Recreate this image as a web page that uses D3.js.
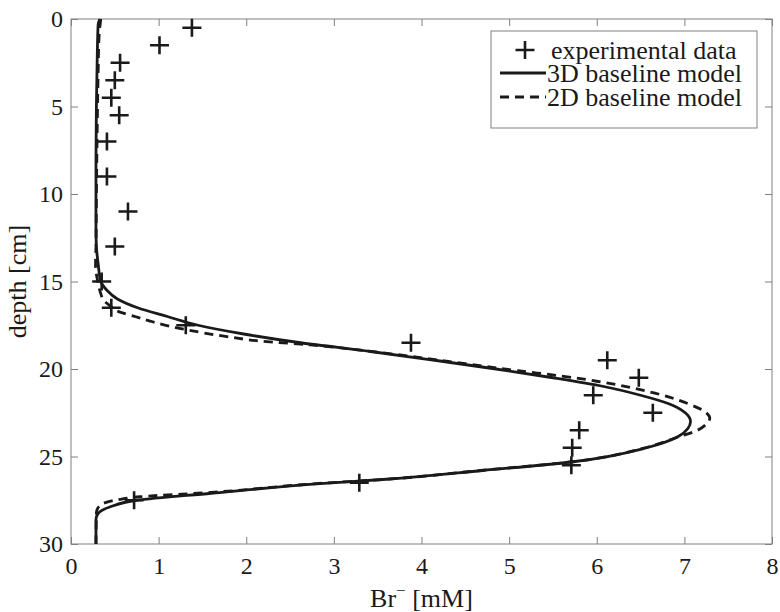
<!DOCTYPE html>
<html>
<head>
<meta charset="utf-8">
<script src="https://cdn.jsdelivr.net/npm/d3@7"></script>
<style>
  body { margin: 0; background: #fff; }
  text { font-family: "Liberation Serif", "Times New Roman", serif; fill: #1a1a1a; }
</style>
</head>
<body>
<div id="chart"></div>
<script>
// measured points: depth [cm] and Br- [mM]
const expDepth = [0.5, 1.5, 2.5, 3.5, 4.5, 5.5, 7, 9, 11, 13, 15, 16.5, 17.5, 18.5, 19.5, 20.5, 21.5, 22.5, 23.5, 24.5, 25.5, 26.5, 27.5];
const expBr    = [1.38, 1.01, 0.56, 0.50, 0.46, 0.55, 0.41, 0.41, 0.65, 0.50, 0.35, 0.46, 1.31, 3.88, 6.12, 6.48, 5.96, 6.64, 5.80, 5.72, 5.71, 3.29, 0.72];

// 3D baseline model
const model3dDepth = [0, 0.3, 2, 5, 8, 12, 13, 14, 15, 15.5, 16, 16.5, 17, 17.5, 18, 18.5, 19, 19.5, 20, 20.5, 21, 21.5, 22, 22.5, 23, 23.4, 23.86, 24.5, 25.3, 25.8, 26.3, 26.57, 27.1, 27.5, 27.87, 28.25, 28.6, 30];
const model3dBr    = [0.33, 0.31, 0.30, 0.29, 0.285, 0.285, 0.29, 0.31, 0.34, 0.41, 0.53, 0.76, 1.10, 1.45, 1.97, 2.62, 3.42, 4.15, 4.85, 5.50, 6.08, 6.50, 6.83, 7.01, 7.07, 7.04, 6.93, 6.57, 5.73, 4.70, 3.6, 2.8, 1.6, 0.75, 0.45, 0.31, 0.285, 0.285];

// 2D baseline model
const model2dDepth = [0, 1, 3, 6, 10, 13, 14.1, 15.1, 15.7, 16.05, 16.4, 16.75, 17.0, 17.3, 17.76, 18.15, 18.4, 18.62, 19.06, 19.7, 20.1, 20.4, 20.7, 21.3, 22.0, 22.5, 22.8, 23.2, 23.5, 23.9, 24.5, 25.3, 25.8, 26.3, 26.55, 27.05, 27.3, 27.45, 27.8, 28.2, 30];
const model2dBr    = [0.34, 0.32, 0.31, 0.30, 0.29, 0.285, 0.28, 0.31, 0.34, 0.37, 0.45, 0.56, 0.73, 0.93, 1.32, 1.78, 2.16, 2.73, 3.53, 4.5, 5.1, 5.6, 6.0, 6.6, 7.05, 7.25, 7.29, 7.24, 7.15, 6.92, 6.55, 5.73, 4.67, 3.6, 2.8, 1.6, 0.79, 0.56, 0.33, 0.29, 0.285];

const xTicks = [0, 1, 2, 3, 4, 5, 6, 7, 8];
const yTicks = [0, 5, 10, 15, 20, 25, 30];
const legendLabels = ["experimental data", "3D baseline model", "2D baseline model"];

const W = 780, H = 612;
const m = {left: 71, right: 8, top: 19, bottom: 68};
const ink = "#1a1a1a", axisGray = "#808080";
const serif = "Liberation Serif, Times New Roman, serif";

const svg = d3.select("#chart").append("svg")
    .attr("width", W)
    .attr("height", H);

const x = d3.scaleLinear().domain([0, 8]).range([m.left, W - m.right]);
const y = d3.scaleLinear().domain([0, 30]).range([m.top, H - m.bottom]);

// axes box + inward ticks
const tickLen = 7;
svg.append("g")
    .attr("transform", `translate(0,${y(30)})`)
    .call(d3.axisBottom(x).tickValues(xTicks).tickSize(-tickLen).tickPadding(13).tickFormat(d3.format("d")))
    .call(g => g.select(".domain").remove());
svg.append("g")
    .attr("transform", `translate(0,${y(0)})`)
    .call(d3.axisTop(x).tickValues(xTicks).tickSize(-tickLen).tickFormat(""))
    .call(g => g.select(".domain").remove());
svg.append("g")
    .attr("transform", `translate(${x(0)},0)`)
    .call(d3.axisLeft(y).tickValues(yTicks).tickSize(-tickLen).tickPadding(8).tickFormat(d3.format("d")))
    .call(g => g.select(".domain").remove());
svg.append("g")
    .attr("transform", `translate(${x(8)},0)`)
    .call(d3.axisRight(y).tickValues(yTicks).tickSize(-tickLen).tickFormat(""))
    .call(g => g.select(".domain").remove());

svg.selectAll(".tick line").attr("stroke", axisGray).attr("stroke-width", 1);
svg.selectAll(".tick text")
    .style("font-family", serif)
    .style("font-size", "24px")
    .attr("fill", ink);

svg.append("rect")
    .attr("x", x(0)).attr("y", y(0))
    .attr("width", x(8) - x(0)).attr("height", y(30) - y(0))
    .attr("fill", "none").attr("stroke", axisGray).attr("stroke-width", 1);

// model curves
const line = d3.line()
    .x(d => x(d[1]))
    .y(d => y(d[0]))
    .curve(d3.curveMonotoneY);

const plot = svg.append("g");

plot.append("path")
    .datum(model2dDepth.map((d, i) => [d, model2dBr[i]]))
    .attr("d", line)
    .attr("fill", "none")
    .attr("stroke", ink)
    .attr("stroke-width", 2.8)
    .attr("stroke-dasharray", "9,6");

plot.append("path")
    .datum(model3dDepth.map((d, i) => [d, model3dBr[i]]))
    .attr("d", line)
    .attr("fill", "none")
    .attr("stroke", ink)
    .attr("stroke-width", 2.8);

// plus markers
const crossPath = "M-9.5,0H9.5M0,-9V9";

plot.selectAll(".pt")
    .data(expDepth.map((d, i) => ({depth: d, br: expBr[i]})))
    .enter()
    .append("path")
    .attr("class", "pt")
    .attr("transform", d => `translate(${x(d.br)},${y(d.depth)})`)
    .attr("d", crossPath)
    .attr("stroke", ink)
    .attr("stroke-width", 2.6)
    .attr("fill", "none");

// axis labels
svg.append("text")
    .attr("x", (x(0) + x(8)) / 2)
    .attr("y", 607)
    .attr("text-anchor", "middle")
    .style("font-size", "26px")
    .call(t => {
        t.append("tspan").text("Br");
        t.append("tspan").attr("dy", -11).style("font-size", "17px").text("\u2212");
        t.append("tspan").attr("dy", 11).text(" [mM]");
    });

svg.append("text")
    .attr("transform", `translate(26,${(y(0) + y(30)) / 2}) rotate(-90)`)
    .attr("text-anchor", "middle")
    .style("font-size", "26px")
    .text("depth [cm]");

// legend
const lg = svg.append("g");
lg.append("rect")
    .attr("x", 491).attr("y", 31)
    .attr("width", 266).attr("height", 97)
    .attr("fill", "#fff").attr("stroke", axisGray).attr("stroke-width", 1);

const rowY = [50, 73, 97];
const textX = 547;

lg.append("path")
    .attr("transform", `translate(525,${rowY[0]})`)
    .attr("d", crossPath)
    .attr("stroke", ink).attr("stroke-width", 2.6).attr("fill", "none");
lg.append("line")
    .attr("x1", 500).attr("x2", 546).attr("y1", rowY[1]).attr("y2", rowY[1])
    .attr("stroke", ink).attr("stroke-width", 2.8);
lg.append("line")
    .attr("x1", 500).attr("x2", 546).attr("y1", rowY[2]).attr("y2", rowY[2])
    .attr("stroke", ink).attr("stroke-width", 2.8).attr("stroke-dasharray", "9,6");

lg.selectAll(".lbl")
    .data(legendLabels)
    .enter()
    .append("text")
    .attr("class", "lbl")
    .attr("x", (d, i) => i === 0 ? textX + 4 : textX)
    .attr("y", (d, i) => rowY[i])
    .attr("dy", "0.33em")
    .style("font-size", "26px")
    .text(d => d);
</script>
</body>
</html>
